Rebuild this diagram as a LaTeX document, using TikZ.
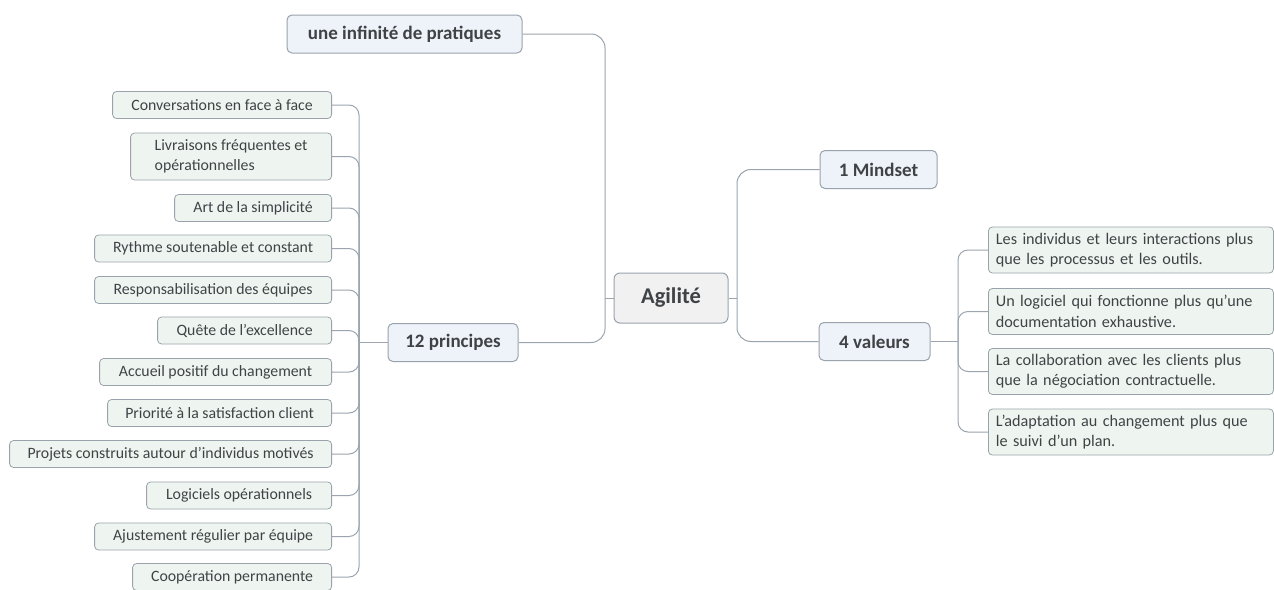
\documentclass[tikz,border=0pt]{standalone}
\usepackage{fontspec}
\setmainfont{Carlito}
\definecolor{linec}{HTML}{9AA5AF}
\definecolor{borderc}{HTML}{9AA3AC}
\definecolor{mainfill}{HTML}{EEF3FA}
\definecolor{agilfill}{HTML}{F1F1F1}
\definecolor{leaffill}{HTML}{EEF5F0}
\definecolor{textc}{HTML}{3F4346}
\begin{document}
\begin{tikzpicture}[x=1pt,y=-1pt,
  conn/.style={draw=linec, line width=1pt, rounded corners=10pt},
  mainbox/.style={draw=borderc, fill=mainfill, rounded corners=5pt, line width=1pt,
    font=\fontsize{19}{22}\selectfont\bfseries, text=textc, minimum height=38, inner sep=0pt},
  agilbox/.style={draw=borderc, fill=agilfill, rounded corners=6pt, line width=1pt,
    font=\fontsize{22.5}{26}\selectfont\bfseries, text=textc, minimum height=50, minimum width=114, inner sep=0pt},
  leaf/.style={draw=borderc, fill=leaffill, rounded corners=4pt, line width=0.8pt,
    font=\fontsize{15.8}{19}\selectfont, text=textc, minimum height=27, inner sep=0pt, anchor=east},
  rleaf/.style={draw=borderc, fill=leaffill, rounded corners=4pt, line width=0.8pt,
    font=\fontsize{16.2}{20.5}\selectfont, text=textc, minimum height=46, minimum width=285,
    text width=270, align=left, inner xsep=7pt, inner ysep=0pt, anchor=west}
]
\useasboundingbox[fill=white] (0,0) rectangle (1274,589);

% main nodes
\node[mainbox, minimum width=235] (prat) at (404.5,34) {une infinité de pratiques};
\node[agilbox] (agil) at (671,298) {Agilité};
\node[mainbox, minimum width=117] (mind) at (878.5,169.5) {1 Mindset};
\node[mainbox, minimum width=111] (val) at (874.5,341.5) {4 valeurs};
\node[mainbox, minimum width=130] (p12) at (453,342.5) {12 principes};

% left leaves
\node[leaf, minimum width=219] (c1) at (332,105) {Conversations en face à face};
\node[leaf, minimum width=201, minimum height=47, align=left, font=\fontsize{15.8}{20}\selectfont] (c2) at (332,156.5) {Livraisons fréquentes et\\opérationnelles};
\node[leaf, minimum width=157] (c3) at (332,208) {Art de la simplicité};
\node[leaf, minimum width=237] (c4) at (332,248.5) {Rythme soutenable et constant};
\node[leaf, minimum width=237] (c5) at (332,290) {Responsabilisation des équipes};
\node[leaf, minimum width=174] (c6) at (332,330.5) {Quête de l'excellence};
\node[leaf, minimum width=232] (c7) at (332,372) {Accueil positif du changement};
\node[leaf, minimum width=224] (c8) at (332,413) {Priorité à la satisfaction client};
\node[leaf, minimum width=322] (c9) at (332,454) {Projets construits autour d'individus motivés};
\node[leaf, minimum width=185] (c10) at (332,495.5) {Logiciels opérationnels};
\node[leaf, minimum width=237] (c11) at (332,536.5) {Ajustement régulier par équipe};
\node[leaf, minimum width=199] (c12) at (332,577) {Coopération permanente};

% right leaves
\node[rleaf] (v1) at (988,250) {Les individus et leurs interactions plus\\que les processus et les outils.};
\node[rleaf] (v2) at (988,311.5) {Un logiciel qui fonctionne plus qu'une\\documentation exhaustive.};
\node[rleaf] (v3) at (988,371.5) {La collaboration avec les clients plus\\que la négociation contractuelle.};
\node[rleaf] (v4) at (988,432) {L'adaptation au changement plus que\\le suivi d'un plan.};

% connectors
\coordinate (al) at (605,298);
\coordinate (ar) at (737,298);
\coordinate (pl) at (359,342.5);
\coordinate (vr) at (958,341.5);

\draw[conn, rounded corners=14pt] (prat.east) -| (al);
\draw[conn, rounded corners=14pt] (p12.east) -| (al);
\draw[conn] (al) -- (agil.west);
\draw[conn] (agil.east) -- (ar);
\draw[conn, rounded corners=14pt] (mind.west) -| (ar);
\draw[conn, rounded corners=14pt] (val.west) -| (ar);

\draw[conn] (p12.west) -- (pl);
\foreach \c in {c1,c2,c3,c4,c5,c6,c7,c8,c9,c10,c11,c12}
  \draw[conn] (\c.east) -| (pl);

\draw[conn] (val.east) -- (vr);
\foreach \v in {v1,v2,v3,v4}
  \draw[conn] (\v.west) -| (vr);
\end{tikzpicture}
\end{document}
